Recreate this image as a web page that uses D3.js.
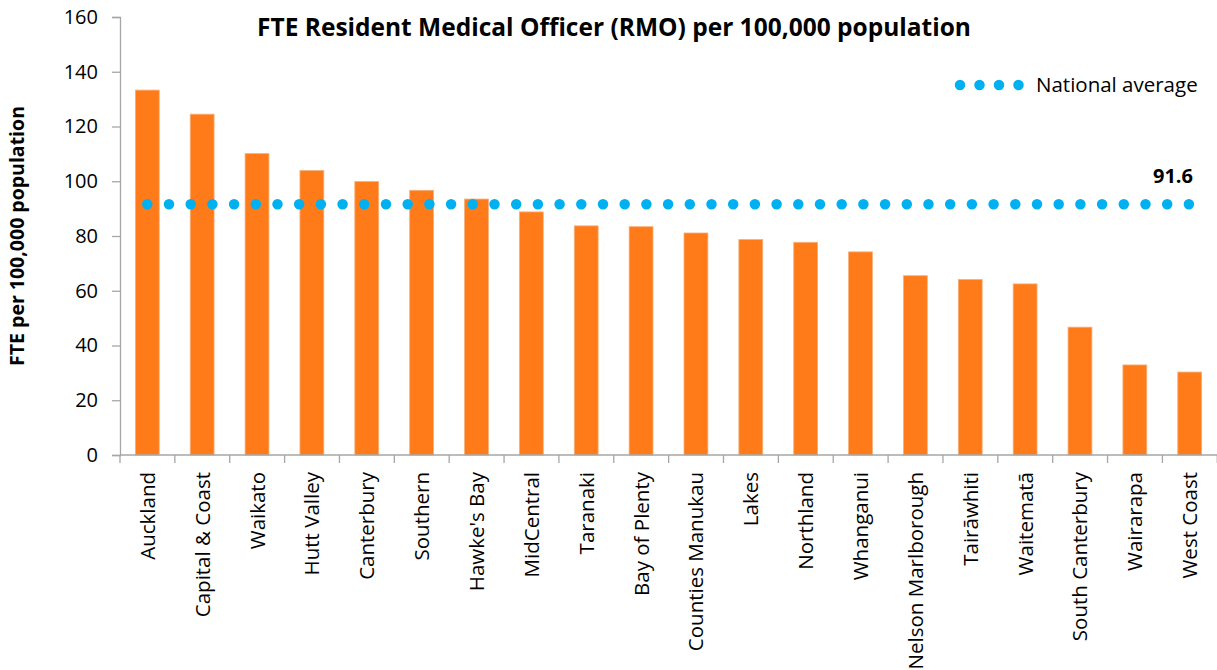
<!DOCTYPE html>
<html>
<head>
<meta charset="utf-8">
<script src="https://cdn.jsdelivr.net/npm/d3@7"></script>
<style>
  html, body { margin: 0; padding: 0; background: #fff; }
  svg { display: block; font-family: "Open Sans", sans-serif; }
</style>
</head>
<body>
<div id="chart"></div>
<script>
const regions = ['Auckland', 'Capital & Coast', 'Waikato', 'Hutt Valley', 'Canterbury', 'Southern',
    "Hawke's Bay", 'MidCentral', 'Taranaki', 'Bay of Plenty', 'Counties Manukau', 'Lakes', 'Northland',
    'Whanganui', 'Nelson Marlborough', 'Tairāwhiti', 'Waitematā', 'South Canterbury', 'Wairarapa', 'West Coast'];
const fteValues = [133.3, 124.5, 110.1, 103.9, 99.9, 96.7, 93.5, 88.8, 83.7, 83.4, 81.1, 78.7, 77.7,
    74.2, 65.5, 64.1, 62.5, 46.7, 32.9, 30.3];
const nationalAverage = 91.6;
const yTicks = [0, 20, 40, 60, 80, 100, 120, 140, 160];

const W = 1217, H = 670;
const margin = { top: 17, right: 0, bottom: 215, left: 120 };
const width = W - margin.left - margin.right;
const height = H - margin.top - margin.bottom;

const svg = d3.select('#chart').append('svg')
    .attr('width', W)
    .attr('height', H);

const g = svg.append('g')
    .attr('transform', `translate(${margin.left},${margin.top})`);

const x = d3.scaleBand()
    .domain(regions)
    .range([0, width])
    .paddingInner(0.565)
    .paddingOuter(0.28);

const y = d3.scaleLinear()
    .domain([0, 160])
    .range([height, 0]);

// bars
g.selectAll('rect.bar')
    .data(regions)
    .join('rect')
    .attr('class', 'bar')
    .attr('x', d => x(d))
    .attr('y', (d, i) => y(fteValues[i]))
    .attr('width', x.bandwidth())
    .attr('height', (d, i) => y(0) - y(fteValues[i]))
    .attr('fill', '#FF7B19')
    .attr('stroke', '#F6B07A')
    .attr('stroke-width', 0.8);

// y axis
const yAxis = g.append('g')
    .call(d3.axisLeft(y).tickValues(yTicks).tickSize(8).tickPadding(14));
yAxis.select('.domain').attr('stroke', '#A6A6A6').attr('stroke-width', 1.3);
yAxis.selectAll('.tick line').attr('stroke', '#A6A6A6').attr('stroke-width', 1.3);
yAxis.selectAll('.tick text')
    .attr('font-family', '"Open Sans", sans-serif')
    .attr('font-size', 20)
    .attr('fill', '#000');

// x axis: ticks at band boundaries
const step = x.step();
const bounds = d3.range(regions.length + 1).map(i => i * step);
const xAxis = g.append('g').attr('transform', `translate(0,${height})`);
xAxis.append('line')
    .attr('x1', 0).attr('x2', width)
    .attr('stroke', '#A6A6A6').attr('stroke-width', 1.3);
xAxis.selectAll('line.tk')
    .data(bounds)
    .join('line')
    .attr('class', 'tk')
    .attr('x1', d => d).attr('x2', d => d)
    .attr('y1', 0).attr('y2', 8)
    .attr('stroke', '#A6A6A6').attr('stroke-width', 1.3);
xAxis.selectAll('text')
    .data(regions)
    .join('text')
    .attr('transform', d => `translate(${x(d) + x.bandwidth() / 2 + 7.5},17) rotate(-90)`)
    .attr('text-anchor', 'end')
    .attr('font-size', 20.5)
    .attr('fill', '#000')
    .text(d => d);

// national average dotted line
const avgY = y(nationalAverage);
g.append('line')
    .attr('x1', x(regions[0]) + x.bandwidth() / 2)
    .attr('x2', x(regions[regions.length - 1]) + x.bandwidth() / 2)
    .attr('y1', avgY).attr('y2', avgY)
    .attr('stroke', '#00B0F0')
    .attr('stroke-width', 10.5)
    .attr('stroke-linecap', 'round')
    .attr('stroke-dasharray', '0,21.7');

g.append('text')
    .attr('x', 1073)
    .attr('y', avgY - 21)
    .attr('text-anchor', 'end')
    .attr('font-size', 20)
    .attr('font-weight', 'bold')
    .attr('fill', '#000')
    .text(nationalAverage.toFixed(1));

// legend
const legend = svg.append('g').attr('transform', 'translate(960,85)');
legend.append('line')
    .attr('x1', 0).attr('x2', 58.7)
    .attr('stroke', '#00B0F0')
    .attr('stroke-width', 10.5)
    .attr('stroke-linecap', 'round')
    .attr('stroke-dasharray', '0,19.5');
legend.append('text')
    .attr('x', 76)
    .attr('y', 7)
    .attr('font-size', 20.5)
    .attr('fill', '#000')
    .text('National average');

// title
svg.append('text')
    .attr('x', 614)
    .attr('y', 36)
    .attr('text-anchor', 'middle')
    .attr('font-size', 24.5)
    .attr('font-weight', 'bold')
    .attr('fill', '#000')
    .text('FTE Resident Medical Officer (RMO) per 100,000 population');

// y axis title
svg.append('text')
    .attr('transform', 'translate(24,236) rotate(-90)')
    .attr('text-anchor', 'middle')
    .attr('font-size', 19.5)
    .attr('font-weight', 'bold')
    .attr('fill', '#000')
    .text('FTE per 100,000 population');
</script>
</body>
</html>
